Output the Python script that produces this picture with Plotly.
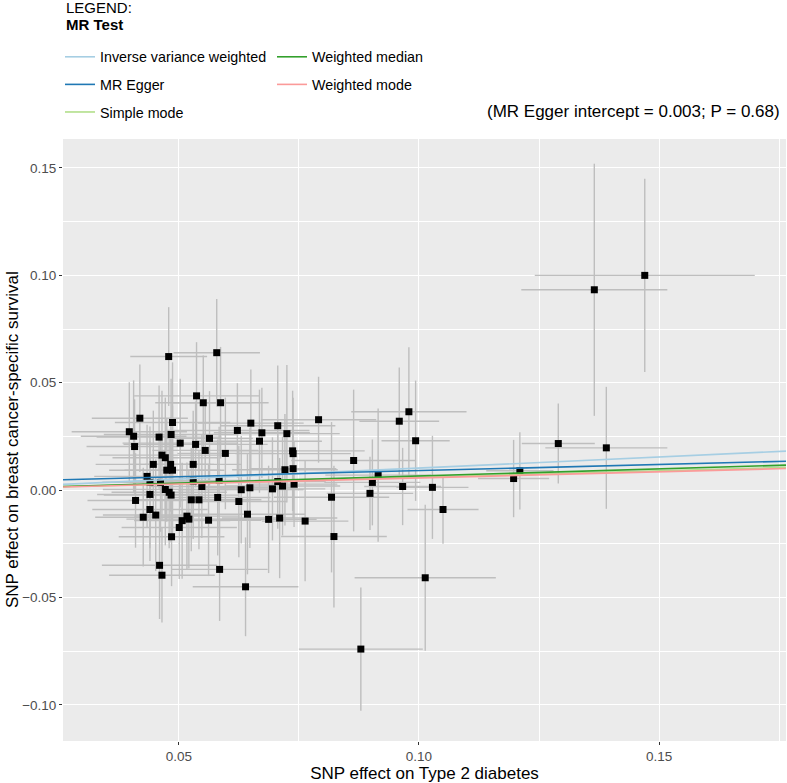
import plotly.graph_objects as go

# ---- data ----
snp_x = [0.1470, 0.1365, 0.1290, 0.1390, 0.1210, 0.1197, 0.0791, 0.0979, 0.0959, 0.0993,
         0.0864, 0.0915, 0.0903, 0.0966, 0.1028, 0.0898, 0.0818, 0.1050, 0.0763, 0.0823,
         0.1013, 0.0879, 0.0479, 0.0579, 0.0537, 0.0551, 0.0587, 0.0487, 0.0650, 0.0622,
         0.0706, 0.0673, 0.0725, 0.0484, 0.0564, 0.0668, 0.0503, 0.0535, 0.0555, 0.0597,
         0.0737, 0.0738, 0.0530, 0.0465, 0.0472, 0.0483, 0.0475, 0.0487, 0.0721, 0.0738,
         0.0530, 0.0584, 0.0706, 0.0548, 0.0472, 0.0716, 0.0740, 0.0630, 0.0648, 0.0695,
         0.0480, 0.0484, 0.0581, 0.0526, 0.0542, 0.0625, 0.0643, 0.0517, 0.0521, 0.0507,
         0.0501, 0.0562, 0.0687, 0.0710, 0.0485, 0.0585, 0.0465, 0.0460, 0.0639, 0.0419,
         0.0397, 0.0406, 0.0459, 0.0408, 0.0447, 0.0434, 0.0440, 0.0462, 0.0440, 0.0410,
         0.0440, 0.0452, 0.0426]
snp_y = [0.1000, 0.0933, 0.0217, 0.0197, 0.0090, 0.0054, 0.0328, 0.0365, 0.0321, 0.0230,
         0.0138, 0.0070, 0.0036, 0.0017, 0.0013, -0.0015, -0.0033, -0.0090, -0.0144, -0.0216,
         -0.0408, -0.0740, 0.0622, 0.0640, 0.0439, 0.0407, 0.0407, 0.0315, 0.0312, 0.0278,
         0.0300, 0.0267, 0.0263, 0.0259, 0.0241, 0.0228, 0.0219, 0.0213, 0.0185, 0.0171,
         0.0183, 0.0170, 0.0120, 0.0163, 0.0151, 0.0120, 0.0093, 0.0093, 0.0095, 0.0100,
         0.0042, 0.0045, 0.0040, 0.0017, 0.0003, 0.0019, 0.0028, 0.0002, 0.0011, 0.0006,
         -0.0010, -0.0023, -0.0034, -0.0045, -0.0045, -0.0053, -0.0112, -0.0121, -0.0135, -0.0142,
         -0.0174, -0.0140, -0.0136, -0.0130, -0.0217, -0.0369, -0.0396, -0.0350, -0.0450, 0.0335,
         0.0272, 0.0251, 0.0247, 0.0203, 0.0120, 0.0064, 0.0036, 0.0036, -0.0020, -0.0048,
         -0.0090, -0.0116, -0.0126]
se_x = [0.0229, 0.0152, 0.0076, 0.0127, 0.0070, 0.0074, 0.0120, 0.0120, 0.0083, 0.0071,
        0.0130, 0.0110, 0.0100, 0.0080, 0.0075, 0.0090, 0.0120, 0.0074, 0.0090, 0.0110,
        0.0147, 0.0129, 0.0080, 0.0090, 0.0130, 0.0100, 0.0100, 0.0120, 0.0110, 0.0150,
        0.0120, 0.0100, 0.0110, 0.0140, 0.0090, 0.0130, 0.0120, 0.0150, 0.0110, 0.0100,
        0.0150, 0.0120, 0.0100, 0.0130, 0.0110, 0.0090, 0.0120, 0.0100, 0.0110, 0.0090,
        0.0120, 0.0140, 0.0100, 0.0110, 0.0130, 0.0120, 0.0090, 0.0130, 0.0100, 0.0110,
        0.0120, 0.0140, 0.0110, 0.0120, 0.0130, 0.0100, 0.0120, 0.0110, 0.0130, 0.0100,
        0.0120, 0.0110, 0.0100, 0.0120, 0.0110, 0.0100, 0.0110, 0.0120, 0.0110, 0.0100,
        0.0120, 0.0110, 0.0130, 0.0100, 0.0120, 0.0110, 0.0100, 0.0120, 0.0110, 0.0100,
        0.0120, 0.0110, 0.0100]
se_y = [0.0450, 0.0587, 0.0186, 0.0284, 0.0180, 0.0180, 0.0200, 0.0300, 0.0250, 0.0280,
        0.0330, 0.0310, 0.0200, 0.0180, 0.0240, 0.0170, 0.0350, 0.0160, 0.0280, 0.0330,
        0.0340, 0.0287, 0.0230, 0.0250, 0.0250, 0.0220, 0.0260, 0.0280, 0.0250, 0.0220,
        0.0280, 0.0210, 0.0320, 0.0260, 0.0220, 0.0240, 0.0300, 0.0200, 0.0230, 0.0260,
        0.0280, 0.0260, 0.0250, 0.0300, 0.0280, 0.0220, 0.0240, 0.0300, 0.0260, 0.0230,
        0.0270, 0.0250, 0.0220, 0.0240, 0.0260, 0.0230, 0.0200, 0.0250, 0.0280, 0.0240,
        0.0260, 0.0220, 0.0270, 0.0240, 0.0230, 0.0260, 0.0280, 0.0250, 0.0230, 0.0270,
        0.0240, 0.0260, 0.0250, 0.0280, 0.0230, 0.0240, 0.0220, 0.0250, 0.0230, 0.0250,
        0.0230, 0.0260, 0.0240, 0.0220, 0.0250, 0.0240, 0.0260, 0.0230, 0.0250, 0.0220,
        0.0240, 0.0260, 0.0230]

methods = ["Inverse variance weighted", "MR Egger", "Simple mode", "Weighted median", "Weighted mode"]
intercepts = [0.0, 0.0034, 0.0, 0.0, 0.0]
slopes = [0.103, 0.057, 0.060, 0.066, 0.057]
colors = ["#A6CEE3", "#1F78B4", "#B2DF8A", "#33A02C", "#FB9A99"]
legend_ids = ["legend", "legend", "legend", "legend2", "legend2"]

x_range = [0.0259, 0.1764]
y_range = [-0.1168, 0.1635]
x_ticks = [0.05, 0.10, 0.15]
x_ticklabels = ["0.05", "0.10", "0.15"]
y_ticks = [-0.10, -0.05, 0.00, 0.05, 0.10, 0.15]
y_ticklabels = ["\u22120.10", "\u22120.05", "0.00", "0.05", "0.10", "0.15"]
x_title = "SNP effect on Type 2 diabetes"
y_title = "SNP effect on breast cancer-specific survival"

FONT = "Liberation Sans, Arial, Helvetica, sans-serif"
W, H = 787, 783
ML, MR, MT, MB = 63, 1, 139, 42
PH = H - MT - MB
PW = W - ML - MR

fig = go.Figure()
fig.add_trace(go.Scatter(
    x=snp_x, y=snp_y, mode="markers",
    marker=dict(symbol="square", size=7, color="black"),
    error_x=dict(type="data", array=se_x, color="#BEBEBE", thickness=1.4, width=0),
    error_y=dict(type="data", array=se_y, color="#BEBEBE", thickness=1.4, width=0),
    showlegend=False, hoverinfo="skip"))

draw_order = [2, 0, 1, 3, 4]
for i in draw_order:
    xs = x_range
    ys = [intercepts[i] + slopes[i] * v for v in xs]
    fig.add_trace(go.Scatter(
        x=xs, y=ys, mode="lines", name=methods[i],
        line=dict(color=colors[i], width=1.6),
        legend=legend_ids[i], legendgroup=methods[i],
        legendrank=i + 1, hoverinfo="skip"))


def py(px):
    # container pixel y (from top) -> paper y
    return (H - MB - px) / PH


def px_(x):
    return (x - ML) / PW


fig.update_layout(
    width=W, height=H,
    margin=dict(l=ML, r=MR, t=MT, b=MB, autoexpand=False),
    paper_bgcolor="white", plot_bgcolor="#EBEBEB",
    font=dict(family=FONT, color="black"),
    legend=dict(
        xref="container", yref="container", x=60 / W, y=1 - 41 / H, xanchor="left", yanchor="top",
        font=dict(size=14.3, color="black"), bgcolor="rgba(0,0,0,0)",
        tracegroupgap=6, itemwidth=30, traceorder="grouped",
    ),
    legend2=dict(
        xref="container", yref="container", x=272 / W, y=1 - 41 / H, xanchor="left", yanchor="top",
        font=dict(size=14.3, color="black"), bgcolor="rgba(0,0,0,0)",
        tracegroupgap=6, itemwidth=30, traceorder="grouped",
    ),
    xaxis=dict(
        range=x_range, tickvals=x_ticks, ticktext=x_ticklabels,
        showgrid=True, gridcolor="white", gridwidth=1.2, zeroline=False,
        ticks="outside", ticklen=3, tickcolor="#333333", tickwidth=1,
        tickfont=dict(size=13.5, color="#4D4D4D"),
        minor=dict(dtick=0.025, tick0=0, showgrid=True, gridcolor="white", gridwidth=0.6, ticks=""),
        title=dict(text=x_title, font=dict(size=17, color="black")),
        automargin=True, showline=False,
    ),
    yaxis=dict(
        range=y_range, tickvals=y_ticks, ticktext=y_ticklabels,
        showgrid=True, gridcolor="white", gridwidth=1.2, zeroline=False,
        ticks="outside", ticklen=3, tickcolor="#333333", tickwidth=1,
        tickfont=dict(size=13.5, color="#4D4D4D"),
        minor=dict(dtick=0.025, tick0=0, showgrid=True, gridcolor="white", gridwidth=0.6, ticks=""),
        automargin=True, showline=False,
    ),
    annotations=[
        dict(text=y_title, xref="paper", yref="paper", x=px_(12), y=0.5, textangle=-90,
             xanchor="center", yanchor="middle", showarrow=False, font=dict(size=17, color="black")),
        dict(text="(MR Egger intercept = 0.003; P = 0.68)",
             xref="paper", yref="paper", x=1, y=py(112), xanchor="right", yanchor="middle",
             xshift=-4, showarrow=False, font=dict(size=17, color="black")),
        dict(text="LEGEND:", xref="paper", yref="paper", x=px_(64), y=py(8),
             xanchor="left", yanchor="middle", showarrow=False, font=dict(size=15, color="black")),
        dict(text="<b>MR Test</b>", xref="paper", yref="paper", x=px_(64), y=py(25),
             xanchor="left", yanchor="middle", showarrow=False, font=dict(size=15, color="black")),
    ],
)

fig.write_html("out.html", config={"displayModeBar": False},
               post_script="document.body.style.margin='0';")
